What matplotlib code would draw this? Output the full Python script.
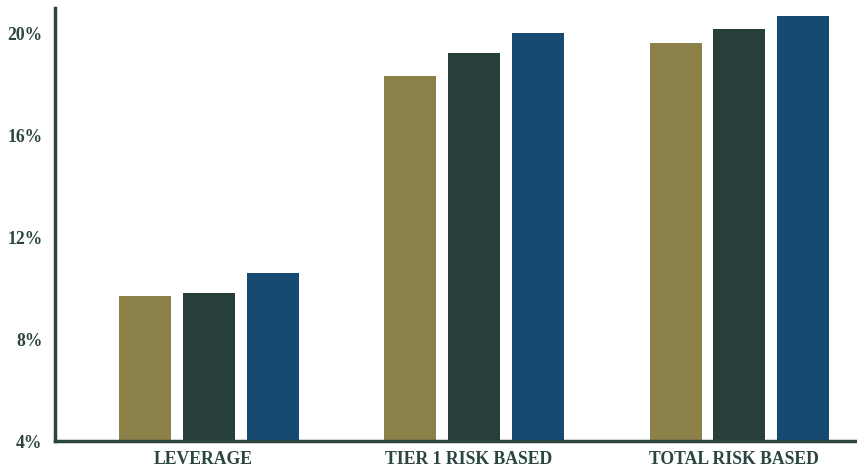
import matplotlib
matplotlib.use("Agg")
import matplotlib.pyplot as plt
import numpy as np

categories = ["LEVERAGE", "TIER 1 RISK BASED", "TOTAL RISK BASED"]
series_a = [9.7, 18.35, 19.65]
series_b = [9.8, 19.25, 20.2]
series_c = [10.6, 20.05, 20.7]
yticks = [4, 8, 12, 16, 20]
ytick_labels = ["4%", "8%", "12%", "16%", "20%"]

colors = ["#8B8148", "#263F3B", "#164A72"]
axis_color = "#2B4541"

fig = plt.figure(figsize=(8.57, 4.68), dpi=100)
ax = fig.add_axes([55/857, 27/468, 1 - 55/857 + 0.002, (441 - 8)/468])

x = np.arange(len(categories))
w = 0.196
step = 0.24
for i, (vals, c) in enumerate(zip([series_a, series_b, series_c], colors)):
    ax.bar(x + (i - 1) * step, np.array(vals) - 4, bottom=4, width=w, color=c, zorder=2)

ax.set_ylim(4, 21.02)
ax.set_xlim(-0.58, 2.45)
ax.set_yticks(yticks)
ax.set_yticklabels(ytick_labels)
ax.set_xticks(x - 0.02)
ax.set_xticklabels(categories)

for lab in ax.get_yticklabels() + ax.get_xticklabels():
    lab.set_fontfamily("Liberation Serif")
    lab.set_fontweight("bold")
    lab.set_color(axis_color)
    lab.set_fontsize(12.7)

ax.tick_params(axis="both", length=0)
ax.tick_params(axis="y", pad=9)
ax.tick_params(axis="x", pad=7)

for s in ["top", "right"]:
    ax.spines[s].set_visible(False)
for s in ["left", "bottom"]:
    ax.spines[s].set_color(axis_color)
    ax.spines[s].set_linewidth(2.5)

fig.savefig("out.png", dpi=100)
